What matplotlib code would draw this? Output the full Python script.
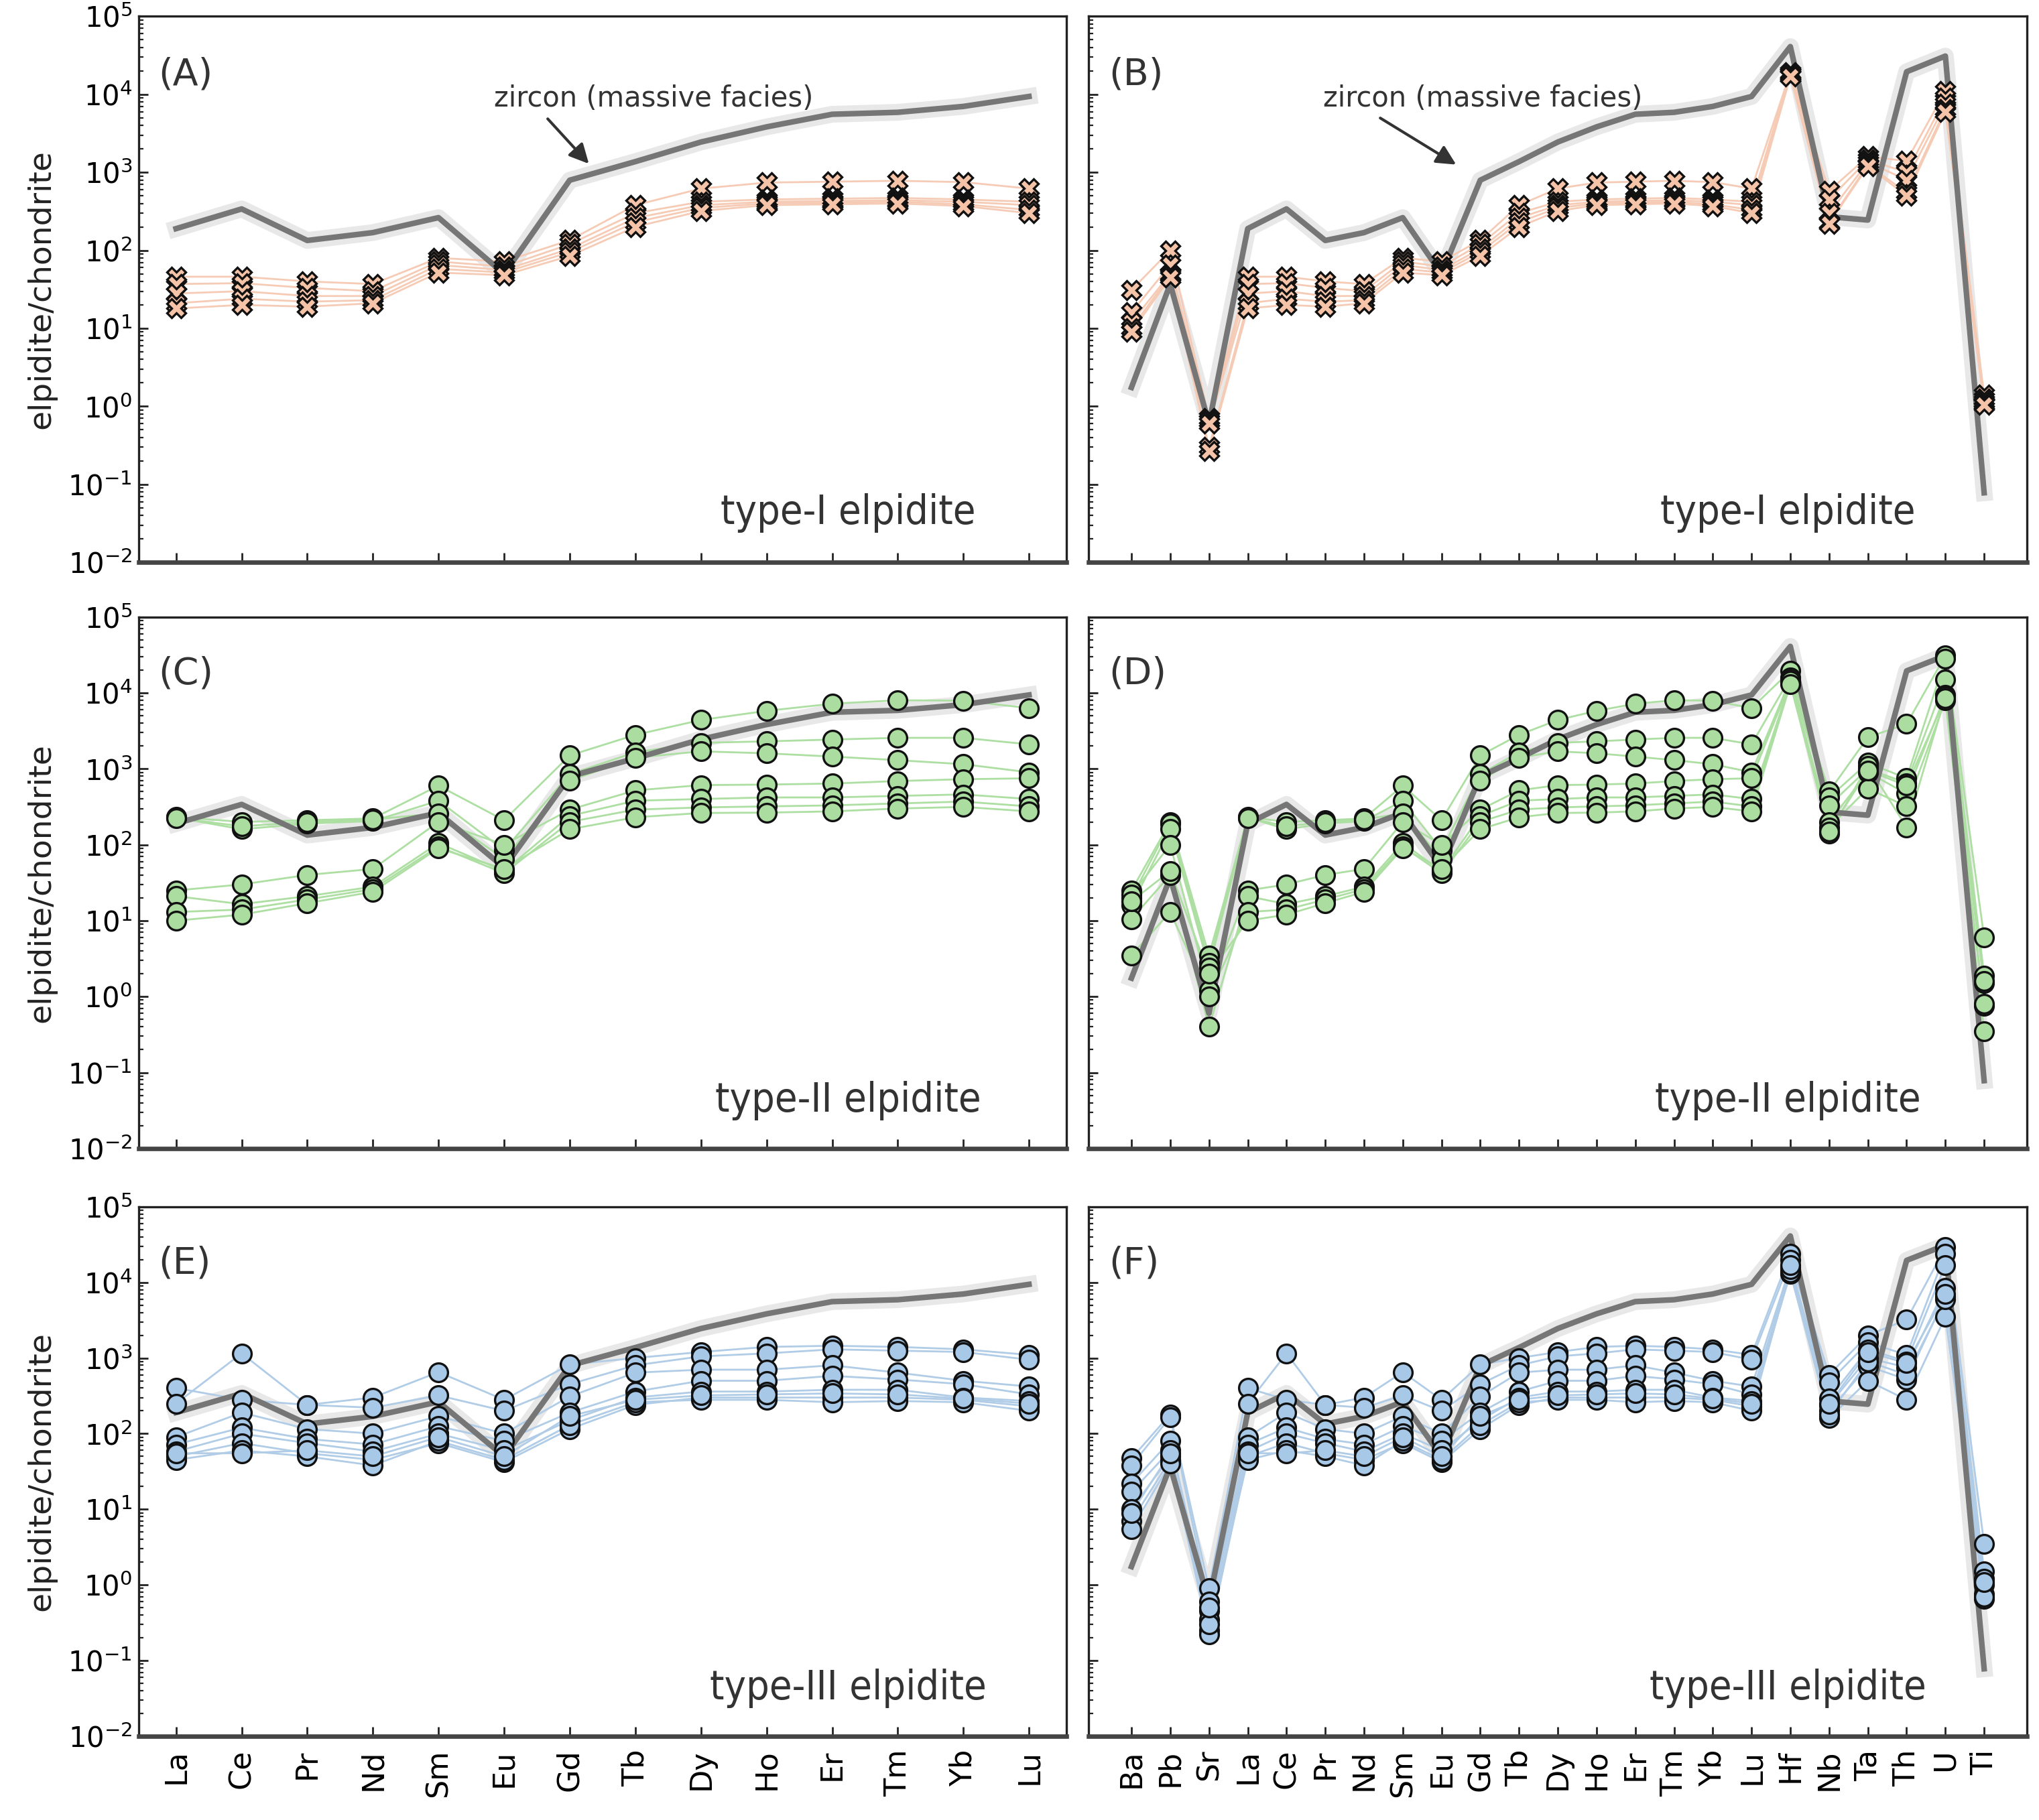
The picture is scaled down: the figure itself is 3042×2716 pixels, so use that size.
import numpy as np
import matplotlib.pyplot as plt
from matplotlib.ticker import LogLocator, NullFormatter

# element order
ree = ['La', 'Ce', 'Pr', 'Nd', 'Sm', 'Eu', 'Gd', 'Tb', 'Dy', 'Ho', 'Er', 'Tm', 'Yb', 'Lu']
lo_extra = ['Ba', 'Pb', 'Sr']
hi_extra = ['Hf', 'Nb', 'Ta', 'Th', 'U', 'Ti']
spider = lo_extra + ree + hi_extra

# zircon (massive facies), chondrite normalised
zircon_ree = [190, 340, 134, 169, 263, 50, 794, 1374, 2450, 3830, 5560, 5890, 7010, 9400]
zircon_extra = [1.75, 37, 0.6, 41000, 270, 245, 19500, 31000, 0.078]  # Ba Pb Sr Hf Nb Ta Th U Ti

# type-I elpidite
type1_ree = [
    [46, 46, 40, 37, 80, 72, 135, 380, 620, 740, 760, 780, 750, 620],
    [37, 38, 33, 30, 72, 62, 120, 300, 420, 450, 460, 470, 450, 420],
    [28, 30, 26, 26, 65, 56, 105, 260, 380, 420, 430, 440, 420, 380],
    [21, 24, 22, 23, 58, 52, 95, 230, 350, 400, 410, 420, 390, 330],
    [18, 20, 19, 21, 52, 48, 85, 200, 320, 380, 390, 400, 370, 300],
]
type1_extra = [
    [31, 100, 0.70, 19000, 580, 1600, 1400, 11000, 1.40],
    [16, 65, 0.65, 18500, 450, 1450, 1000, 9000, 1.25],
    [12, 50, 0.60, 18000, 300, 1350, 800, 7500, 1.15],
    [10, 48, 0.30, 17500, 230, 1250, 550, 6500, 1.10],
    [9, 45, 0.27, 17000, 220, 1200, 500, 6000, 1.05],
]

# type-II elpidite
type2_ree = [
    [232, 200, 210, 222, 600, 210, 1500, 2800, 4400, 5800, 7200, 8000, 7900, 6300],
    [228, 160, 190, 205, 380, 85, 850, 1650, 2200, 2300, 2430, 2560, 2560, 2100],
    [225, 175, 200, 215, 260, 65, 700, 1400, 1700, 1600, 1450, 1300, 1150, 900],
    [25, 30, 40, 48, 200, 100, 290, 520, 610, 620, 640, 690, 730, 750],
    [21, 16.5, 21, 28, 105, 45, 240, 380, 400, 420, 420, 440, 460, 400],
    [13, 14, 19, 26, 95, 42, 200, 290, 310, 320, 330, 350, 370, 320],
    [10, 12, 17, 24, 90, 48, 160, 230, 262, 265, 275, 300, 315, 275],
]
type2_extra = [
    [25, 200, 3.5, 19500, 500, 2600, 3900, 31000, 6.0],
    [20, 190, 2.8, 16000, 420, 1200, 750, 28000, 1.9],
    [16, 160, 2.4, 15000, 330, 1000, 650, 15000, 1.5],
    [22, 100, 1.2, 14000, 200, 900, 470, 9500, 0.75],
    [10.5, 40, 0.4, 13500, 170, 550, 320, 8000, 0.35],
    [3.5, 13, 1.0, 14500, 140, 1100, 170, 9000, 1.6],
    [18, 45, 2.0, 13000, 150, 950, 600, 8500, 0.8],
]

# type-III elpidite
type3_ree = [
    [400, 280, 240, 300, 650, 280, 820, 1000, 1200, 1400, 1450, 1400, 1300, 1100],
    [250, 1150, 240, 220, 320, 200, 450, 800, 1050, 1150, 1300, 1250, 1200, 950],
    [90, 190, 115, 100, 170, 100, 310, 640, 700, 700, 800, 640, 500, 420],
    [72, 120, 85, 72, 125, 80, 190, 360, 500, 500, 580, 520, 450, 330],
    [58, 100, 75, 58, 100, 60, 150, 300, 360, 360, 380, 380, 300, 270],
    [50, 75, 55, 45, 75, 42, 115, 240, 300, 300, 300, 300, 280, 230],
    [45, 60, 50, 38, 80, 45, 130, 260, 280, 280, 260, 270, 260, 200],
    [55, 55, 60, 50, 90, 50, 170, 280, 320, 330, 340, 330, 290, 250],
]
type3_extra = [
    [47, 180, 0.9, 24000, 600, 2000, 3200, 29000, 3.5],
    [38, 165, 0.6, 20000, 480, 1600, 1100, 24000, 1.5],
    [22, 80, 0.45, 16000, 290, 1300, 900, 17000, 1.2],
    [17, 60, 0.35, 14000, 240, 1000, 750, 8500, 1.0],
    [10, 50, 0.25, 13000, 200, 780, 520, 6500, 0.75],
    [7, 45, 0.22, 13500, 160, 500, 280, 3500, 0.65],
    [5.5, 40, 0.3, 15000, 180, 900, 600, 6000, 0.7],
    [9, 55, 0.5, 17000, 250, 1200, 850, 7000, 1.1],
]


def spider_row(ree_vals, extra_vals):
    return list(extra_vals[:3]) + list(ree_vals) + list(extra_vals[3:])


def draw(ax, labels, rows, zircon, marker, fill, line):
    x = np.arange(len(labels))
    ax.plot(x, zircon, color='#e8e8e8', lw=9, solid_joinstyle='round', zorder=1)
    for r in rows:
        ax.plot(x, r, color=line, lw=1.0, zorder=2)
    ax.plot(x, zircon, color='#767676', lw=3.0, zorder=3)
    for r in rows:
        ax.plot(x, r, ls='none', marker=marker, ms=10, mfc=fill, mec='#111111',
                mew=1.2, zorder=4)
    ax.set_yscale('log')
    ax.set_ylim(1e-2, 1e5)
    ax.set_xticks(x)
    ax.set_xticklabels(labels, rotation=90)
    ax.yaxis.set_major_locator(LogLocator(base=10, numticks=20))
    ax.yaxis.set_minor_locator(LogLocator(base=10, subs=np.arange(2, 10), numticks=20))
    ax.yaxis.set_minor_formatter(NullFormatter())
    ax.tick_params(which='both', direction='in', top=False, right=False,
                   labelsize=15, color='#222222')
    ax.tick_params(which='major', length=5, width=1.0)
    ax.tick_params(which='minor', length=2.5, width=0.8)
    ax.tick_params(axis='x', pad=7, labelsize=16)
    for s in ax.spines.values():
        s.set_color('#222222')
        s.set_linewidth(1.2)
    ax.spines['bottom'].set_linewidth(2.4)
    ax.spines['bottom'].set_color('#444444')


fig = plt.figure(figsize=(15.21, 13.58), dpi=200)

cols = [(0.068, 0.455), (0.534, 0.460)]
rows_pos = [(0.691, 0.300), (0.369, 0.292), (0.046, 0.291)]

groups = [
    (type1_ree, type1_extra, 'X', '#f5c3a8', '#f6cbb5', 'type-I elpidite', ('(A)', '(B)')),
    (type2_ree, type2_extra, 'o', '#abdca0', '#addfa2', 'type-II elpidite', ('(C)', '(D)')),
    (type3_ree, type3_extra, 'o', '#a8c8e8', '#b0cce6', 'type-III elpidite', ('(E)', '(F)')),
]

for i, (g_ree, g_extra, mk, fc, lc, name, letters) in enumerate(groups):
    bottom, height = rows_pos[i]
    # REE panel
    axl = fig.add_axes([cols[0][0], bottom, cols[0][1], height])
    draw(axl, ree, g_ree, zircon_ree, mk, fc, lc)
    axl.set_xlim(-0.57, len(ree) - 1 + 0.57)
    axl.set_ylabel('elpidite/chondrite', fontsize=17, labelpad=6, color='#222222')
    # extended panel
    axr = fig.add_axes([cols[1][0], bottom, cols[1][1], height])
    ext_rows = [spider_row(a, b) for a, b in zip(g_ree, g_extra)]
    draw(axr, spider, ext_rows, spider_row(zircon_ree, zircon_extra), mk, fc, lc)
    axr.set_xlim(-1.1, len(spider) - 1 + 1.1)
    axr.tick_params(labelleft=False)

    for ax, letter, cx in ((axl, letters[0], 0.765), (axr, letters[1], 0.745)):
        ax.text(0.021, 0.893, letter, transform=ax.transAxes, fontsize=20,
                ha='left', va='center', color='#333333')
        ax.text(cx, 0.09, name, transform=ax.transAxes, fontsize=22,
                fontstretch='condensed', ha='center', va='center', color='#333333')
        if i < 2:
            ax.tick_params(labelbottom=False)

    if i == 0:
        for ax, tx, tip in ((axl, 0.555, 0.488), (axr, 0.42, 0.395)):
            ax.annotate('zircon (massive facies)', xy=(tip, 0.725), xycoords='axes fraction',
                        xytext=(tx, 0.85), textcoords='axes fraction', fontsize=15,
                        ha='center', va='center', color='#333333',
                        arrowprops=dict(arrowstyle='-|>', color='#333333', lw=1.5,
                                        relpos=(0.15, 0.0), mutation_scale=22))

fig.savefig('out.png', dpi=200)
